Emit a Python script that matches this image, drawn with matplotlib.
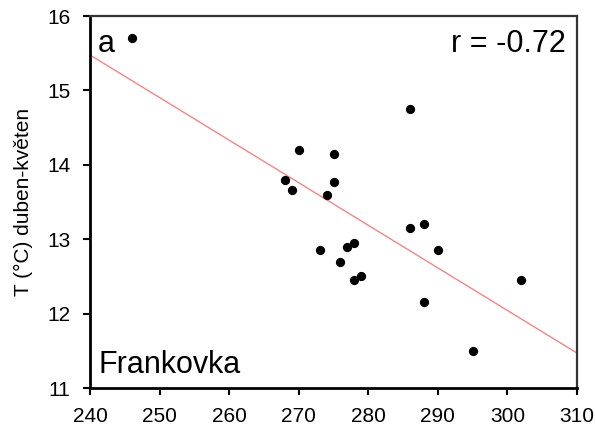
import numpy as np
import matplotlib
matplotlib.use("Agg")
import matplotlib.pyplot as plt

plt.rcParams['font.family'] = ['Liberation Sans', 'DejaVu Sans']

# day-of-year sum (x) vs mean April-May temperature (y)
x = [246, 268, 269, 270, 273, 274, 275, 275, 276, 277,
     278, 278, 279, 286, 286, 288, 288, 290, 295, 302]
y = [15.7, 13.8, 13.66, 14.2, 12.85, 13.6, 14.15, 13.77, 12.7, 12.9,
     12.95, 12.45, 12.5, 14.75, 13.15, 13.2, 12.15, 12.85, 11.5, 12.45]
xticks = [240, 250, 260, 270, 280, 290, 300, 310]
yticks = [11, 12, 13, 14, 15, 16]

fig = plt.figure(figsize=(5.95, 4.29), dpi=100)
ax = fig.add_axes([90 / 595, 41 / 429, 487 / 595, 372 / 429])

# regression line
k, q = np.polyfit(x, y, 1)
lx = np.array([240, 310])
ax.plot(lx, k * lx + q, color="#f38585", lw=1.0, zorder=1)

ax.scatter(x, y, s=32, color="black", zorder=2)

ax.set_xlim(240, 310)
ax.set_ylim(11, 16)
ax.set_xticks(xticks)
ax.set_yticks(yticks)
ax.tick_params(direction="out", length=5, width=1.5, labelsize=15)
ax.tick_params(axis="x", pad=9)
ax.tick_params(axis="y", pad=9)

for s in ["left", "bottom"]:
    ax.spines[s].set_linewidth(2)
for s in ["top", "right"]:
    ax.spines[s].set_linewidth(1.6)
    ax.spines[s].set_color("#333333")

ax.set_ylabel("T (°C) duben-květen", fontsize=15, labelpad=10)

ax.text(0.0165, 0.904, "a", transform=ax.transAxes, fontsize=22, va="baseline", ha="left")
ax.text(0.977, 0.904, "r = -0.72", transform=ax.transAxes, fontsize=22, va="baseline", ha="right")
ax.text(0.0165, 0.0395, "Frankovka", transform=ax.transAxes, fontsize=22, va="baseline", ha="left")

fig.savefig("out.png", dpi=100)
